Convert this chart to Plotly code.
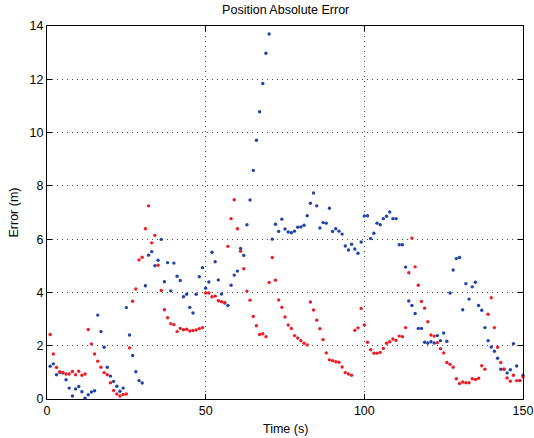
import plotly.graph_objects as go

t = list(range(1, 151))

blue = [
    1.23, 1.32, 0.91, 1.00, 0.98, 0.72, 0.41, 0.11, 0.38, 0.47,
    0.27, 0.03, 0.16, 0.26, 0.31, 3.15, 2.53, 1.94, 1.19, 0.86,
    0.66, 0.48, 0.29, 0.41, 3.43, 2.40, 1.63, 1.02, 0.69, 0.60,
    4.25, 5.40, 5.53, 5.00, 5.21, 5.99, 4.40, 5.12, 4.06, 5.10,
    4.61, 4.45, 3.84, 3.93, 3.44, 3.23, 3.93, 4.59, 4.93, 4.16,
    4.39, 5.51, 5.15, 4.47, 3.94, 3.60, 3.51, 4.27, 4.65, 4.80,
    5.65, 5.39, 6.54, 7.47, 8.58, 9.71, 10.78, 11.84, 12.98, 13.70,
    6.00, 6.56, 6.29, 6.75, 6.38, 6.27, 6.24, 6.30, 6.45, 6.46,
    6.52, 6.88, 7.35, 7.73, 7.25, 6.42, 6.62, 6.60, 7.16, 6.29,
    6.39, 6.30, 6.19, 5.74, 5.59, 5.81, 5.63, 5.47, 5.89, 6.87,
    6.88, 6.02, 6.22, 6.60, 6.54, 6.77, 6.86, 7.02, 6.77, 6.77,
    5.79, 5.79, 4.95, 3.68, 3.51, 3.21, 2.65, 2.65, 2.13, 2.10,
    2.15, 2.10, 2.38, 2.19, 2.48, 2.17, 3.98, 4.84, 5.27, 5.31,
    3.35, 4.33, 3.75, 4.21, 4.38, 3.51, 3.33, 2.68, 2.19, 1.95,
    1.79, 1.53, 1.12, 1.12, 0.98, 1.10, 2.08, 1.24, 0.69, 0.89,
]

red = [
    2.42, 1.69, 1.18, 1.02, 1.00, 0.94, 0.94, 1.03, 0.91, 1.04,
    0.89, 0.94, 2.61, 2.07, 1.69, 1.42, 1.19, 0.99, 0.91, 0.61,
    0.32, 0.19, 0.11, 0.17, 0.19, 1.92, 3.67, 4.13, 5.22, 5.32,
    6.39, 7.25, 5.86, 6.14, 5.02, 4.07, 3.35, 3.05, 2.83, 2.79,
    2.53, 2.65, 2.60, 2.62, 2.55, 2.57, 2.59, 2.64, 2.68, 3.98,
    3.98, 3.84, 3.86, 3.69, 3.65, 3.62, 5.73, 6.77, 7.48, 6.39,
    5.55, 4.89, 4.05, 3.71, 3.10, 2.75, 2.42, 2.45, 2.34, 4.37,
    5.31, 4.46, 3.72, 3.44, 3.08, 2.78, 2.65, 2.38, 2.29, 2.19,
    2.09, 2.03, 3.64, 3.34, 2.96, 2.64, 2.23, 1.73, 1.47, 1.44,
    1.40, 1.38, 1.20, 0.99, 0.94, 0.89, 2.58, 2.67, 3.40, 2.78,
    2.13, 1.85, 1.72, 1.72, 1.75, 1.90, 2.09, 2.15, 2.25, 2.20,
    2.36, 2.34, 2.68, 4.74, 6.04, 4.96, 4.27, 3.66, 3.41, 2.90,
    2.40, 2.36, 2.11, 1.89, 1.73, 1.37, 1.30, 1.19, 0.76, 0.58,
    0.64, 0.61, 0.61, 0.76, 0.73, 0.78, 1.25, 1.12, 3.18, 3.80,
    2.68, 1.94, 1.37, 1.12, 0.79, 0.67, 0.89, 0.69, 0.69, 0.83,
]

x_ticks = [0, 50, 100, 150]
y_ticks = [0, 2, 4, 6, 8, 10, 12, 14]

FONT = "Liberation Sans, Arial, Helvetica, sans-serif"
TXT = dict(family=FONT, size=12.5, color="black")

fig = go.Figure()
fig.add_trace(go.Scatter(x=t, y=blue, mode="markers",
                         marker=dict(color="#2142aa", size=3.4),
                         cliponaxis=False, showlegend=False))
fig.add_trace(go.Scatter(x=t, y=red, mode="markers",
                         marker=dict(color="#ee1c24", size=3.4),
                         cliponaxis=False, showlegend=False))

axis_common = dict(
    showline=True, linecolor="black", linewidth=1, mirror="ticks",
    ticks="inside", ticklen=5, tickcolor="black", tickwidth=1,
    showgrid=True, gridcolor="#444444", gridwidth=1, griddash="1px,4px",
    zeroline=False, tickfont=TXT, automargin=False,
)

fig.update_xaxes(range=[0, 150], tickvals=x_ticks, **axis_common)
fig.update_yaxes(range=[0, 14], tickvals=y_ticks, **axis_common)

fig.update_layout(
    width=534, height=438,
    margin=dict(l=47, r=10.5, t=26, b=38.5),
    paper_bgcolor="white", plot_bgcolor="white",
    title=dict(text="Position Absolute Error", x=0.535, xanchor="center",
               y=0.977, yanchor="middle", font=TXT),
    annotations=[
        dict(text="Time (s)", xref="paper", yref="paper", x=0.5, y=0,
             yshift=-30, xanchor="center", yanchor="middle",
             showarrow=False, font=TXT),
        dict(text="Error (m)", xref="paper", yref="paper", x=0, y=0.5,
             xshift=-34, xanchor="center", yanchor="middle", textangle=-90,
             showarrow=False, font=TXT),
    ],
)

fig.write_html("out.html")
